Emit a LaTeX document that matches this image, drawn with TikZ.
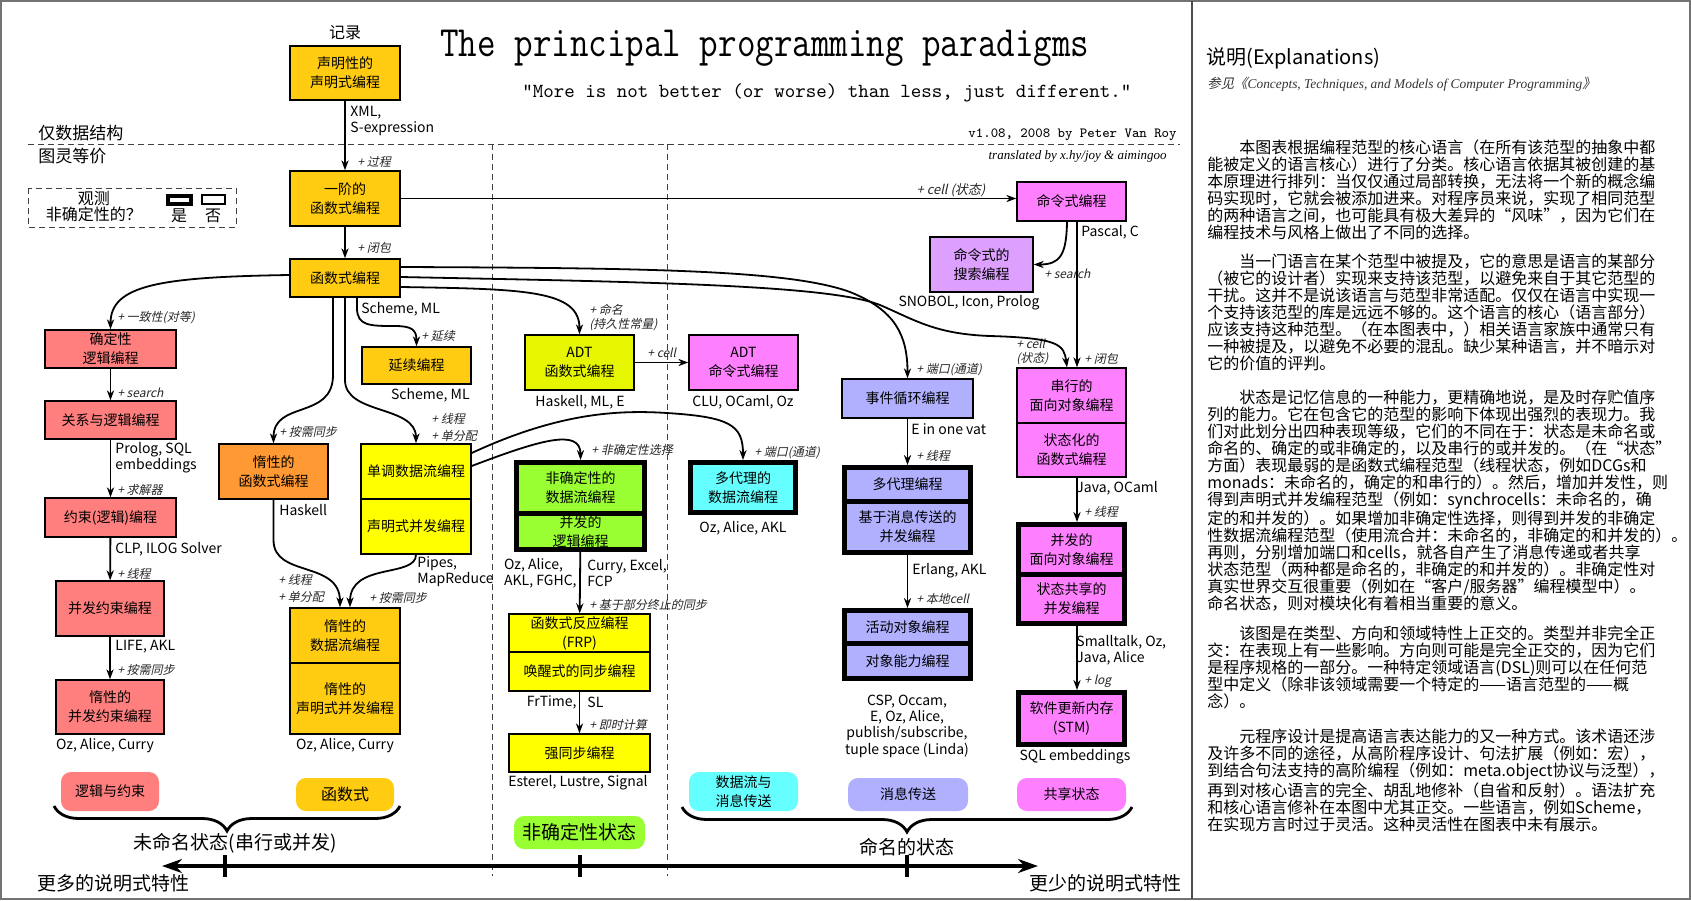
\documentclass[tikz,border=0pt]{standalone}
\usepackage{fontspec}
\setmainfont{Noto Sans CJK SC}
\newfontfamily\slantcjk{Noto Sans CJK SC}[FakeSlant=0.22]
\newfontfamily\seritalic{Liberation Serif}
\usetikzlibrary{positioning,arrows.meta,decorations.pathreplacing}

\definecolor{funcgold}{HTML}{FFCC11}
\definecolor{logicred}{HTML}{FF7F7F}
\definecolor{lazyorange}{HTML}{FF9933}
\definecolor{dfyellow}{HTML}{FFFF00}
\definecolor{adtlime}{HTML}{E6F500}
\definecolor{ndgreen}{HTML}{99FF33}
\definecolor{agentcyan}{HTML}{66FFFF}
\definecolor{statepink}{HTML}{FF80FF}
\definecolor{searchviolet}{HTML}{DDA0FF}
\definecolor{msglavender}{HTML}{B0B0FF}

\tikzset{
  pbox/.style={draw=black, line width=0.7pt, align=center, inner sep=1pt,
               minimum width=55pt, minimum height=27.5pt,
               font=\fontsize{7}{9.5}\selectfont},
  pboxthick/.style={pbox, line width=2.5pt, minimum width=52.5pt, minimum height=25pt},
  catbox/.style={rounded corners=5pt, align=center, inner sep=1pt,
                 font=\fontsize{7}{9.5}\selectfont},
  langnote/.style={inner sep=0pt, align=left, font=\fontsize{7}{8}\selectfont},
  addnote/.style={inner sep=0pt, anchor=west, align=left, text=black!85,
                  font=\slantcjk\fontsize{6}{7}\selectfont},
  deriv/.style={-{Stealth[length=5pt,width=3.6pt]}, line width=0.9pt},
  dashguide/.style={dash pattern=on 3pt off 2pt, line width=0.5pt, black!75},
  bigtext/.style={inner sep=0pt, font=\fontsize{9.5}{10}\selectfont},
  explpara/.style={anchor=north west, align=left, inner sep=0pt,
                   font=\fontsize{8}{8.5}\selectfont}
}

\begin{document}
\begin{tikzpicture}[x=0.5pt, y=-0.5pt]

  \useasboundingbox (0,0) rectangle (1691,900);

  %% frame and the explanation column
  \draw[black!55, line width=1pt] (1,1) rectangle (1690,899);
  \draw[black!70, line width=0.8pt] (1192,1) -- (1192,899);

  %% guide lines
  \draw[dashguide] (28,144) -- (1180,144);
  \draw[dashguide] (492,144) -- (492,876);
  \draw[dashguide] (667,144) -- (667,876);
  \node[anchor=west, inner sep=0pt, font=\fontsize{8.5}{9}\selectfont] (dataonly) at (38,133) {仅数据结构};
  \node[anchor=west, inner sep=0pt, font=\fontsize{8.5}{9}\selectfont] (turing) at (38,156) {图灵等价};

  %% legend
  \draw[dashguide] (28,188) rectangle (236,227);
  \node[align=center, inner sep=0pt, font=\fontsize{8}{8}\selectfont] (observe) at (94,207) {观测\\非确定性的？};
  \draw[line width=2pt] (168,196) rectangle (191,204);
  \draw[line width=0.7pt] (202,195) rectangle (225,204);
  \node[inner sep=0pt, font=\fontsize{8}{8}\selectfont] (yes) at (179,216) {是};
  \node[inner sep=0pt, font=\fontsize{8}{8}\selectfont] (no) at (213,216) {否};

  %% title
  \node[anchor=west, inner sep=0pt, font=\ttfamily\fontsize{18}{18}\selectfont] (title) at (440,48)
    {\scalebox{1}[1.2]{The principal programming paradigms}};
  \node[anchor=west, inner sep=0pt, font=\ttfamily\fontsize{10}{10}\selectfont] (motto) at (522,93)
    {"More is not better (or worse) than less, just different."};
  \node[anchor=east, inner sep=0pt, font=\ttfamily\fontsize{7}{7}\selectfont] (version) at (1177,135)
    {v1.08, 2008 by Peter Van Roy};
  \node[anchor=east, inner sep=0pt, font=\seritalic\itshape\fontsize{6.5}{6.5}\selectfont] (translators) at (1167,156)
    {translated by x.hy/joy \& aimingoo};

  %% paradigms
  \node[inner sep=0pt, font=\fontsize{8}{8}\selectfont] (record) at (345,33) {记录};
  \node[pbox, fill=funcgold, minimum height=27pt] (decl) at (345,73) {声明性的\\声明式编程};
  \node[pbox, fill=funcgold] (first) at (345,198.5) {一阶的\\函数式编程};
  \node[pbox, fill=funcgold, minimum height=19pt] (func) at (345,278) {函数式编程};
  \node[pbox, fill=statepink, minimum width=54.5pt, minimum height=19.5pt] (imper) at (1071.5,201.5) {命令式编程};
  \node[pbox, fill=searchviolet, minimum width=51.5pt] (imsearch) at (981.5,264.5) {命令式的\\搜索编程};

  \node[pbox, fill=logicred, minimum width=65.5pt, minimum height=19pt] (detlog) at (110.5,349) {确定性\\逻辑编程};
  \node[pbox, fill=logicred, minimum width=65.5pt, minimum height=19pt] (rellog) at (110.5,420) {关系与逻辑编程};
  \node[pbox, fill=logicred, minimum width=65.5pt, minimum height=19.5pt] (constr) at (110.5,517.5) {约束(逻辑)编程};
  \node[pbox, fill=logicred, minimum width=54pt] (conccons) at (110,608.5) {并发约束编程};
  \node[pbox, fill=logicred, minimum width=54pt, minimum height=27pt] (lazycons) at (110,707) {惰性的\\并发约束编程};

  \node[pbox, fill=funcgold, minimum width=54.5pt, minimum height=18.5pt] (contin) at (416.5,365.5) {延续编程};
  \node[pbox, fill=lazyorange, minimum width=54.5pt] (lazyfunc) at (273.5,471.5) {惰性的\\函数式编程};
  \node[pbox, fill=dfyellow] (mono) at (416,471.5) {单调数据流编程};
  \node[pbox, fill=dfyellow, below=-0.7pt of mono] (declconc) {声明式并发编程};
  \node[pbox, fill=funcgold] (lazydf) at (345,635.5) {惰性的\\数据流编程};
  \node[pbox, fill=funcgold, minimum height=35.5pt, below=-0.7pt of lazydf] (lazydecl) {惰性的\\声明式并发编程};

  \node[pbox, fill=adtlime, minimum width=54.5pt] (adtfun) at (579.5,362.5) {ADT\\函数式编程};
  \node[pbox, fill=statepink, minimum width=54.5pt] (adtimp) at (743.5,362.5) {ADT\\命令式编程};
  \node[pboxthick, fill=ndgreen, minimum width=64pt, minimum height=25.5pt] (nddf) at (580.5,488) {非确定性的\\数据流编程};
  \node[pboxthick, fill=ndgreen, minimum width=64pt, minimum height=17pt, below=-2.5pt of nddf] (conclog) {并发的\\逻辑编程};
  \node[pboxthick, fill=agentcyan] (madf) at (743,487.5) {多代理的\\数据流编程};
  \node[pbox, fill=dfyellow, minimum width=70.5pt, minimum height=19pt] (frp) at (579.5,633) {函数式反应编程\\(FRP)};
  \node[pbox, fill=dfyellow, minimum width=70.5pt, minimum height=19.5pt, below=-0.7pt of frp] (wakeup) {唤醒式的同步编程};
  \node[pbox, fill=dfyellow, minimum width=70.5pt, minimum height=19pt] (strong) at (579.5,753) {强同步编程};

  \node[pbox, fill=msglavender, minimum width=65.5pt, minimum height=19.5pt] (evloop) at (907.5,398.5) {事件循环编程};
  \node[pboxthick, fill=msglavender, minimum width=63pt, minimum height=17pt] (multiag) at (907.5,484.5) {多代理编程};
  \node[pboxthick, fill=msglavender, minimum width=63pt, minimum height=25.5pt, below=-2.5pt of multiag] (msgconc) {基于消息传送的\\并发编程};
  \node[pboxthick, fill=msglavender, minimum width=63pt, minimum height=16.5pt] (actobj) at (907.5,627) {活动对象编程};
  \node[pboxthick, fill=msglavender, minimum width=63pt, minimum height=17.5pt, below=-2.5pt of actobj] (objcap) {对象能力编程};

  \node[pbox, fill=statepink, minimum width=54.5pt] (seqoo) at (1071.5,395.5) {串行的\\面向对象编程};
  \node[pbox, fill=statepink, minimum width=54.5pt, minimum height=27pt, below=-0.7pt of seqoo] (statefun) {状态化的\\函数式编程};
  \node[pboxthick, fill=statepink, minimum width=53pt] (concoo) at (1071.5,549.5) {并发的\\面向对象编程};
  \node[pboxthick, fill=statepink, minimum width=53pt, minimum height=24.5pt, below=-2.5pt of concoo] (sharedconc) {状态共享的\\并发编程};
  \node[pboxthick, fill=statepink, minimum width=53pt, minimum height=26pt] (stm) at (1071.5,718.5) {软件更新内存\\(STM)};

  %% languages
  \node[langnote, anchor=west] (xmlnote) at (350,120.5) {XML,\\S-expression};
  \node[langnote, anchor=west] (prolognote) at (115,458) {Prolog, SQL\\embeddings};
  \node[langnote, anchor=west] (clpnote) at (115,549) {CLP, ILOG Solver};
  \node[langnote, anchor=west] (lifenote) at (115,647) {LIFE, AKL};
  \node[langnote] (ozcons) at (105,746) {Oz, Alice, Curry};
  \node[langnote, anchor=west] (schemeA) at (361,309) {Scheme, ML};
  \node[langnote, anchor=east] (schemeB) at (470,395) {Scheme, ML};
  \node[langnote, anchor=west] (haskellnote) at (279,510) {Haskell};
  \node[langnote, anchor=west] (pipesnote) at (417,572) {Pipes,\\MapReduce};
  \node[langnote] (ozlazy) at (345,746) {Oz, Alice, Curry};
  \node[langnote] (adtfunnote) at (580,402) {Haskell, ML, E};
  \node[langnote] (adtimpnote) at (743,402) {CLU, OCaml, Oz};
  \node[langnote] (madfnote) at (743,528) {Oz, Alice, AKL};
  \node[langnote, anchor=east] (nddfnoteA) at (577,573) {Oz, Alice,\\AKL, FGHC,};
  \node[langnote, anchor=west] (nddfnoteB) at (587,573) {Curry, Excel,\\FCP};
  \node[langnote, anchor=east] (frpnoteA) at (577,702) {FrTime,};
  \node[langnote, anchor=west] (frpnoteB) at (587,702) {SL};
  \node[langnote] (strongnote) at (578,783) {Esterel, Lustre, Signal};
  \node[langnote, anchor=west] (pascalnote) at (1081,232) {Pascal, C};
  \node[langnote] (snobolnote) at (969,303) {SNOBOL, Icon, Prolog};
  \node[langnote, anchor=west] (vatnote) at (911,429) {E in one vat};
  \node[langnote, anchor=west] (javanote) at (1076,488) {Java, OCaml};
  \node[langnote, anchor=west] (erlangnote) at (912,571) {Erlang, AKL};
  \node[langnote, align=center, font=\fontsize{7}{8.2}\selectfont] (cspnote) at (907,726) {CSP, Occam,\\E, Oz, Alice,\\publish/subscribe,\\tuple space (Linda)};
  \node[langnote, anchor=west] (smalltalknote) at (1076,650) {Smalltalk, Oz,\\Java, Alice};
  \node[langnote] (sqlnote) at (1075,757) {SQL embeddings};

  %% added concepts
  \node[addnote] (addproc) at (357,162) {+ 过程};
  \node[addnote] (addclosA) at (357,248) {+ 闭包};
  \node[addnote, anchor=center, font=\slantcjk\fontsize{6.5}{7}\selectfont] (addcellA) at (951,190) {+ cell (状态)};
  \node[addnote] (addunify) at (117,318) {+ 一致性(对等)};
  \node[addnote] (addsearchA) at (117,393) {+ search};
  \node[addnote] (addsolver) at (117,490) {+ 求解器};
  \node[addnote] (addthreadA) at (117,574) {+ 线程};
  \node[addnote] (addlazyA) at (117,670) {+ 按需同步};
  \node[addnote] (addcont) at (421,336) {+ 延续};
  \node[addnote] (addlazyB) at (279,432) {+ 按需同步};
  \node[addnote] (addthreadB) at (431,419) {+ 线程};
  \node[addnote] (addsingleB) at (431,436) {+ 单分配};
  \node[addnote] (addthreadC) at (278,580) {+ 线程};
  \node[addnote] (addsingleC) at (278,597) {+ 单分配};
  \node[addnote] (addlazyC) at (369,598) {+ 按需同步};
  \node[addnote] (addname) at (589,318) {+ 命名\\(持久性常量)};
  \node[addnote] (addcellB) at (647,353) {+ cell};
  \node[addnote] (addchoice) at (591,450) {+ 非确定性选择};
  \node[addnote] (addportA) at (754,453) {+ 端口(通道)};
  \node[addnote] (addpartial) at (589,605) {+ 基于部分终止的同步};
  \node[addnote] (addinstant) at (589,725) {+ 即时计算};
  \node[addnote] (addsearchB) at (1044,274) {+ search};
  \node[addnote] (addcellC) at (1016,352) {+ cell\\(状态)};
  \node[addnote] (addclosB) at (1084,359) {+ 闭包};
  \node[addnote] (addportB) at (916,370) {+ 端口(通道)};
  \node[addnote] (addthreadD) at (916,456) {+ 线程};
  \node[addnote] (addlocal) at (916,599) {+ 本地cell};
  \node[addnote] (addthreadE) at (1084,512) {+ 线程};
  \node[addnote] (addlog) at (1084,681) {+ log};

  %% derivations
  \draw[deriv] (decl) -- (first);
  \draw[deriv] (first) -- (func);
  \draw[deriv] (first.east) -- (first.east -| imper.west);
  \draw[deriv] ([yshift=1.5pt]func.west) .. controls (160,277) and (110.5,285) .. (detlog.north);
  \draw[deriv] (detlog) -- (rellog);
  \draw[deriv] (rellog) -- (constr);
  \draw[deriv] (constr) -- (conccons);
  \draw[deriv] (conccons) -- (lazycons);
  \draw[deriv] ([xshift=-6pt]func.south) -- (333,375) .. controls (333,420) and (273.5,400) .. (lazyfunc.north);
  \draw[deriv] (func.south) -- (345,380) .. controls (345,415) and (416,405) .. (mono.north);
  \draw[deriv] ([xshift=6pt]func.south) -- (357,308) .. controls (357,326) and (370,326) .. (395,326)
               .. controls (412,326) and (416.5,330) .. (contin.north);
  \draw[deriv] (lazyfunc.south) -- (273.5,540) .. controls (273.5,578) and (340,560) .. ([xshift=-2.5pt]lazydf.north);
  \draw[deriv] (declconc.south) .. controls (416,578) and (350,562) .. ([xshift=2.5pt]lazydf.north);
  \draw[deriv] ([yshift=-4.5pt]func.east) .. controls (525,289) and (579.5,290) .. (adtfun.north);
  \draw[deriv] (adtfun) -- (adtimp);
  \draw[deriv] ([yshift=5.5pt]func.east) .. controls (650,268) and (790,270) .. (850,292)
               .. controls (895,310) and (907.5,335) .. (evloop.north);
  \draw[deriv] ([yshift=0.5pt]func.east) .. controls (650,282) and (830,285) .. (880,305)
               .. controls (915,320) and (935,334) .. (990,336)
               .. controls (1060,338) and (1064,345) .. ([xshift=-2.25pt]seqoo.north);
  \draw[deriv] ([yshift=9.25pt]mono.east) .. controls (560,412) and (620,410) .. (667,413)
               .. controls (730,417) and (743,425) .. (madf.north);
  \draw[deriv] ([yshift=2.75pt]mono.east) .. controls (540,440) and (580.5,428) .. (nddf.north);
  \draw[deriv] (conclog) -- (frp);
  \draw[deriv] (wakeup) -- (strong);
  \draw[deriv] ([xshift=2.75pt]imper.south) -- ([xshift=2.75pt]seqoo.north);
  \draw[deriv] ([xshift=-2.25pt]imper.south) .. controls (1066.5,255) and (1060,264.5) .. (imsearch.east);
  \draw[deriv] (evloop) -- (multiag);
  \draw[deriv] (msgconc) -- (actobj);
  \draw[deriv] ([xshift=2.75pt]statefun.south) -- ([xshift=2.75pt]concoo.north);
  \draw[deriv] ([xshift=2.75pt]sharedconc.south) -- ([xshift=2.75pt]stm.north);

  %% families
  \node[catbox, fill=logicred, minimum width=49pt, minimum height=19.5pt] (catlogic) at (110,791.5) {逻辑与约束};
  \node[catbox, fill=funcgold, minimum width=49pt, minimum height=16.5pt, font=\fontsize{8}{9}\selectfont] (catfunc) at (345,794.5) {函数式};
  \node[catbox, fill=ndgreen, minimum width=65.5pt, minimum height=16.5pt, font=\fontsize{9.5}{10}\selectfont] (catnondet) at (579.5,832.5) {非确定性状态};
  \node[catbox, fill=agentcyan, minimum width=54.5pt, minimum height=19.5pt] (catdfmsg) at (743.5,791.5) {数据流与\\消息传送};
  \node[catbox, fill=msglavender, minimum width=60pt, minimum height=16.5pt] (catmsg) at (908,794.5) {消息传送};
  \node[catbox, fill=statepink, minimum width=54.5pt, minimum height=16.5pt] (catshared) at (1071.5,794.5) {共享状态};

  %% braces and the axis
  \draw[line width=1.4pt, decorate, decoration={brace, amplitude=12.5pt}] (400,806) -- (54,806);
  \draw[line width=1.4pt, decorate, decoration={brace, amplitude=12.5pt}] (1132,807) -- (682,807);
  \node[bigtext] (unnamed) at (235,843) {未命名状态(串行或并发)};
  \node[bigtext] (named) at (907,847) {命名的状态};
  \draw[line width=2pt, {Stealth[length=10pt,width=7pt]}-{Stealth[length=10pt,width=7pt]}] (162,866) -- (1038,866);
  \foreach \tickx in {225,580,907}
    \draw[line width=2pt] (\tickx,855) -- (\tickx,877);
  \node[bigtext] (moredecl) at (113,883) {更多的说明式特性};
  \node[bigtext] (lessdecl) at (1105,883) {更少的说明式特性};

  %% explanations
  \node[anchor=west, inner sep=0pt, font=\fontsize{10}{10}\selectfont] (explhead) at (1206,58) {说明(Explanations)};
  \node[anchor=west, inner sep=0pt, text=black!80, font=\fontsize{6.7}{7}\selectfont] (explref) at (1207,84)
    {{\slantcjk 参见《}{\seritalic\itshape Concepts, Techniques, and Models of Computer Programming}{\slantcjk 》}};
  \node[explpara] (parcore) at (1207,139) {\hspace*{16pt}本图表根据编程范型的核心语言（在所有该范型的抽象中都\\
能被定义的语言核心）进行了分类。核心语言依据其被创建的基\\
本原理进行排列：当仅仅通过局部转换，无法将一个新的概念编\\
码实现时，它就会被添加进来。对程序员来说，实现了相同范型\\
的两种语言之间，也可能具有极大差异的“风味”，因为它们在\\
编程技术与风格上做出了不同的选择。};
  \node[explpara] (parmention) at (1207,254) {\hspace*{16pt}当一门语言在某个范型中被提及，它的意思是语言的某部分\\
（被它的设计者）实现来支持该范型，以避免来自于其它范型的\\
干扰。这并不是说该语言与范型非常适配。仅仅在语言中实现一\\
个支持该范型的库是远远不够的。这个语言的核心（语言部分）\\
应该支持这种范型。（在本图表中，）相关语言家族中通常只有\\
一种被提及，以避免不必要的混乱。缺少某种语言，并不暗示对\\
它的价值的评判。};
  \node[explpara] (parstate) at (1207,389) {\hspace*{16pt}状态是记忆信息的一种能力，更精确地说，是及时存贮值序\\
列的能力。它在包含它的范型的影响下体现出强烈的表现力。我\\
们对此划分出四种表现等级，它们的不同在于：状态是未命名或\\
命名的、确定的或非确定的，以及串行的或并发的。（在“状态”\\
方面）表现最弱的是函数式编程范型（线程状态，例如DCGs和\\
monads：未命名的，确定的和串行的）。然后，增加并发性，则\\
得到声明式并发编程范型（例如：synchrocells：未命名的，确\\
定的和并发的）。如果增加非确定性选择，则得到并发的非确定\\
性数据流编程范型（使用流合并：未命名的，非确定的和并发的）。\\
再则，分别增加端口和cells，就各自产生了消息传递或者共享\\
状态范型（两种都是命名的，非确定的和并发的）。非确定性对\\
真实世界交互很重要（例如在“客户/服务器”编程模型中）。\\
命名状态，则对模块化有着相当重要的意义。};
  \node[explpara] (parortho) at (1207,625) {\hspace*{16pt}该图是在类型、方向和领域特性上正交的。类型并非完全正\\
交：在表现上有一些影响。方向则可能是完全正交的，因为它们\\
是程序规格的一部分。一种特定领域语言(DSL)则可以在任何范\\
型中定义（除非该领域需要一个特定的——语言范型的——概\\
念）。};
  \node[explpara] (parmeta) at (1207,729) {\hspace*{16pt}元程序设计是提高语言表达能力的又一种方式。该术语还涉\\
及许多不同的途径，从高阶程序设计、句法扩展（例如：宏），\\
到结合句法支持的高阶编程（例如：meta.object协议与泛型），\\
再到对核心语言的完全、胡乱地修补（自省和反射）。语法扩充\\
和核心语言修补在本图中尤其正交。一些语言，例如Scheme，\\
在实现方言时过于灵活。这种灵活性在图表中未有展示。};

\end{tikzpicture}
\end{document}
